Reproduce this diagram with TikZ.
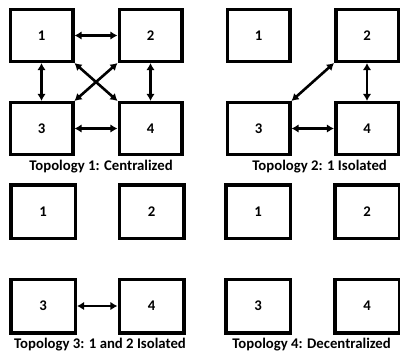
\documentclass[tikz,border=0pt]{standalone}
\usepackage{fontspec}
\setmainfont{Carlito}
\usepackage{tikz}
\usetikzlibrary{arrows.meta}
\tikzset{
  tnode/.style={draw=black,fill=white,line width=0.0875cm,
    minimum width=1.5625cm,minimum height=1.29cm,
    font=\fontsize{10.5}{12}\selectfont\bfseries,inner sep=0pt},
  tnodeL/.style={tnode,minimum width=1.6125cm,minimum height=1.3375cm},
  tlink/.style={line width=0.065cm,{Latex[length=5pt,width=6pt]}-{Latex[length=5pt,width=6pt]}},
  tcap/.style={font=\fontsize{10.5}{12}\selectfont\bfseries,inner sep=0pt},
}

\begin{document}
\begin{tikzpicture}
  \useasboundingbox (0,0) rectangle (10,-8.85);
  % topology 1
  \node[tnode] (a1) at (1.0375,-0.8875) {1};
  \node[tnode] (a2) at (3.7625,-0.8875) {2};
  \node[tnode] (a3) at (1.0375,-3.2125) {3};
  \node[tnode] (a4) at (3.7625,-3.2125) {4};
  \node[tcap] (cap1) at (2.525,-4.175) {Topology 1: Centralized};
  \draw[tlink] (a1.east) -- (a2.west);
  \draw[tlink] (a3.east) -- (a4.west);
  \draw[tlink] (a1.south) -- (a3.north);
  \draw[tlink] (a2.south) -- (a4.north);
  \draw[tlink] (a1.south east) -- (a4.north west);
  \draw[tlink] (a2.south west) -- (a3.north east);
  % topology 2
  \node[tnode] (b1) at (6.4625,-0.8875) {1};
  \node[tnode] (b2) at (9.175,-0.8875) {2};
  \node[tnode] (b3) at (6.4625,-3.2125) {3};
  \node[tnode] (b4) at (9.175,-3.2125) {4};
  \node[tcap] (cap2) at (7.99,-4.175) {Topology 2: 1 Isolated};
  \draw[tlink] (b2.south west) -- (b3.north east);
  \draw[tlink] (b2.south) -- (b4.north);
  \draw[tlink] (b3.east) -- (b4.west);
  % topology 3
  \node[tnodeL] (c1) at (1.075,-5.2875) {1};
  \node[tnodeL] (c2) at (3.7875,-5.2875) {2};
  \node[tnodeL] (c3) at (1.075,-7.65) {3};
  \node[tnodeL] (c4) at (3.7875,-7.65) {4};
  \node[tcap] (cap3) at (2.5,-8.625) {Topology 3: 1 and 2 Isolated};
  \draw[tlink] (c3.east) -- (c4.west);
  % topology 4
  \node[tnodeL] (d1) at (6.45,-5.2875) {1};
  \node[tnodeL] (d2) at (9.175,-5.2875) {2};
  \node[tnodeL] (d3) at (6.45,-7.65) {3};
  \node[tnodeL] (d4) at (9.175,-7.65) {4};
  \node[tcap] (cap4) at (7.79,-8.625) {Topology 4: Decentralized};
\end{tikzpicture}
\end{document}
